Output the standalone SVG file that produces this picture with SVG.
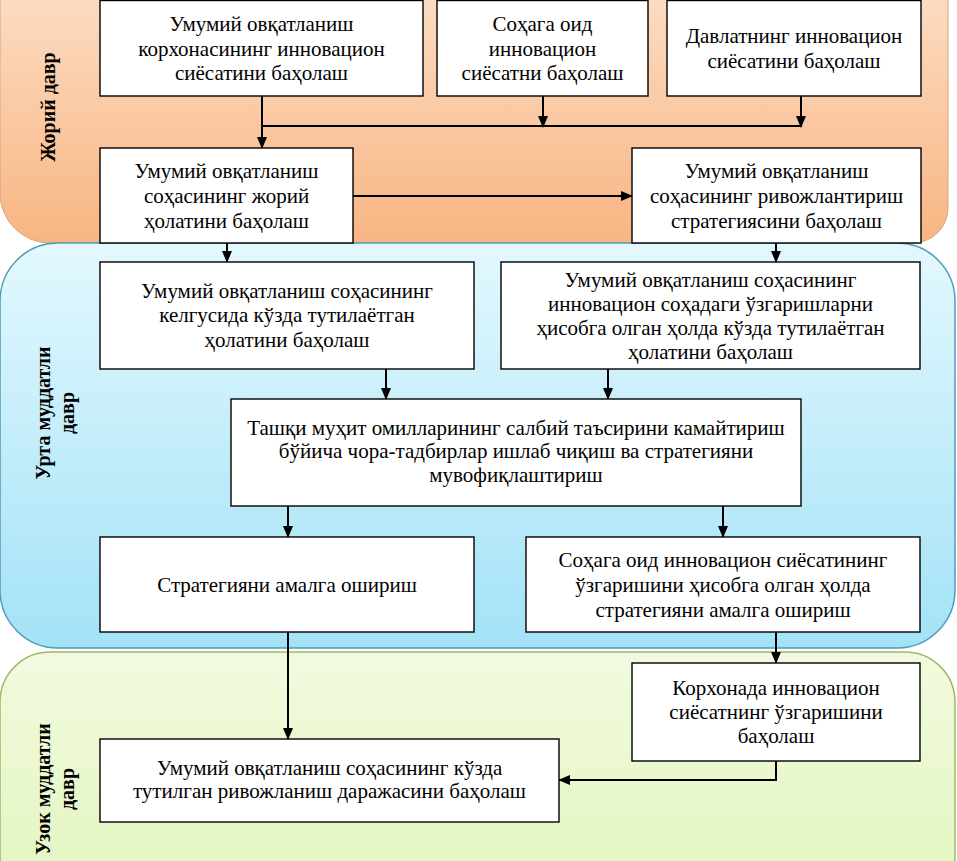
<svg xmlns="http://www.w3.org/2000/svg" width="957" height="861" viewBox="0 0 957 861">
<defs>
<linearGradient id="gOrange" x1="0" y1="0" x2="0" y2="1">
<stop offset="0" stop-color="#fcdcc2"/>
<stop offset="1" stop-color="#f8b583"/>
</linearGradient>
<linearGradient id="gBlue" x1="0" y1="0" x2="0" y2="1">
<stop offset="0" stop-color="#e3f8fe"/>
<stop offset="1" stop-color="#a3e2f7"/>
</linearGradient>
<linearGradient id="gGreen" x1="0" y1="0" x2="0" y2="1">
<stop offset="0" stop-color="#f1fadf"/>
<stop offset="1" stop-color="#e2f5bd"/>
</linearGradient>
<marker id="ah" markerUnits="userSpaceOnUse" markerWidth="12" markerHeight="12" refX="11" refY="5" orient="auto" viewBox="0 0 12 10">
<path d="M0,0 L12,5 L0,10 z" fill="#000"/>
</marker>
</defs>
<style>
.box{fill:#fff;stroke:#000;stroke-width:1.4}
.t{font-family:"Liberation Serif","Times New Roman",serif;font-size:21px;fill:#000;text-anchor:middle}
.lab{font-family:"Liberation Serif","Times New Roman",serif;font-size:20px;font-weight:bold;fill:#000;text-anchor:middle}
.c{fill:none;stroke:#000;stroke-width:2}
.ca{fill:none;stroke:#000;stroke-width:2;marker-end:url(#ah)}
</style>
<rect width="957" height="861" fill="#fff"/>
<g id="panels">
<path d="M-5,-5 H948 V208 A35,35 0 0 1 913,243 H50 A50,50 0 0 1 0,193 V-5 Z" fill="url(#gOrange)" stroke="#d9a57a" stroke-width="1"/>
<rect x="0" y="243" width="955" height="405" rx="58" ry="58" fill="url(#gBlue)" stroke="#4f9cb8" stroke-width="1.5"/>
<rect x="0" y="652" width="955" height="260" rx="50" ry="50" fill="url(#gGreen)" stroke="#a3b765" stroke-width="1.5"/>
</g>
<g id="labels">
<text class="lab" transform="translate(55,107) rotate(-90)">Жорий давр</text>
<text class="lab" transform="translate(50,413) rotate(-90)"><tspan x="0" y="0">Урта муддатли</tspan><tspan x="0" y="24">давр</tspan></text>
<text class="lab" transform="translate(50,789) rotate(-90)"><tspan x="0" y="0">Узок муддатли</tspan><tspan x="0" y="24">давр</tspan></text>
</g>
<g id="connectors">
<line class="ca" x1="262" y1="96" x2="262" y2="148"/>
<line class="c" x1="261" y1="126" x2="802" y2="126" stroke-width="1.5"/>
<line class="ca" x1="543" y1="96" x2="543" y2="127"/>
<line class="ca" x1="801" y1="96" x2="801" y2="127"/>
<line class="ca" x1="353" y1="196" x2="632" y2="196"/>
<line class="ca" x1="227" y1="243" x2="227" y2="262"/>
<line class="ca" x1="776" y1="243" x2="776" y2="262"/>
<line class="ca" x1="386" y1="369" x2="386" y2="399"/>
<line class="ca" x1="608" y1="369" x2="608" y2="399"/>
<line class="ca" x1="288" y1="506" x2="288" y2="537"/>
<line class="ca" x1="723" y1="506" x2="723" y2="537"/>
<line class="ca" x1="288" y1="632" x2="288" y2="739"/>
<line class="ca" x1="776" y1="632" x2="776" y2="663"/>
<polyline class="ca" points="776,761 776,780 559,780"/>
</g>
<g id="nodeA">
<rect class="box" x="100" y="0.5" width="323" height="95.5"/>
<text class="t"><tspan x="261.5" y="31">Умумий овқатланиш</tspan><tspan x="261.5" y="56">корхонасининг инновацион</tspan><tspan x="261.5" y="80">сиёсатини баҳолаш</tspan></text>
</g>
<g id="nodeB">
<rect class="box" x="437" y="0.5" width="211" height="95.5"/>
<text class="t"><tspan x="542.5" y="31">Соҳага оид</tspan><tspan x="542.5" y="56">инновацион</tspan><tspan x="542.5" y="80">сиёсатни баҳолаш</tspan></text>
</g>
<g id="nodeC">
<rect class="box" x="667" y="0.5" width="254" height="95.5"/>
<text class="t"><tspan x="794" y="43">Давлатнинг инновацион</tspan><tspan x="794" y="68">сиёсатини баҳолаш</tspan></text>
</g>
<g id="nodeD">
<rect class="box" x="100" y="148" width="253" height="95"/>
<text class="t"><tspan x="226.5" y="178">Умумий овқатланиш</tspan><tspan x="226.5" y="203">соҳасининг жорий</tspan><tspan x="226.5" y="228">ҳолатини баҳолаш</tspan></text>
</g>
<g id="nodeE">
<rect class="box" x="632" y="148" width="289" height="95"/>
<text class="t"><tspan x="776.5" y="178">Умумий овқатланиш</tspan><tspan x="776.5" y="203">соҳасининг ривожлантириш</tspan><tspan x="776.5" y="228">стратегиясини баҳолаш</tspan></text>
</g>
<g id="nodeF">
<rect class="box" x="100" y="262" width="374" height="107"/>
<text class="t"><tspan x="287" y="298">Умумий овқатланиш соҳасининг</tspan><tspan x="287" y="322">келгусида кўзда тутилаётган</tspan><tspan x="287" y="347">ҳолатини баҳолаш</tspan></text>
</g>
<g id="nodeG">
<rect class="box" x="501" y="262" width="419" height="107"/>
<text class="t"><tspan x="710.5" y="287">Умумий овқатланиш соҳасининг</tspan><tspan x="710.5" y="311">инновацион соҳадаги ўзгаришларни</tspan><tspan x="710.5" y="335">ҳисобга олган ҳолда кўзда тутилаётган</tspan><tspan x="710.5" y="359">ҳолатини баҳолаш</tspan></text>
</g>
<g id="nodeH">
<rect class="box" x="231" y="399" width="570" height="107"/>
<text class="t"><tspan x="516" y="435">Ташқи муҳит омилларининг салбий таъсирини камайтириш</tspan><tspan x="516" y="458">бўйича чора-тадбирлар ишлаб чиқиш ва стратегияни</tspan><tspan x="516" y="482">мувофиқлаштириш</tspan></text>
</g>
<g id="nodeI">
<rect class="box" x="100" y="537" width="374" height="95"/>
<text class="t" x="287" y="592">Стратегияни амалга ошириш</text>
</g>
<g id="nodeJ">
<rect class="box" x="526" y="537" width="394" height="95"/>
<text class="t"><tspan x="723" y="567">Соҳага оид инновацион сиёсатининг</tspan><tspan x="723" y="592">ўзгаришини ҳисобга олган ҳолда</tspan><tspan x="723" y="617">стратегияни амалга ошириш</tspan></text>
</g>
<g id="nodeL">
<rect class="box" x="632" y="663" width="288" height="98"/>
<text class="t"><tspan x="776" y="695">Корхонада инновацион</tspan><tspan x="776" y="719">сиёсатнинг ўзгаришини</tspan><tspan x="776" y="743">баҳолаш</tspan></text>
</g>
<g id="nodeK">
<rect class="box" x="100" y="739" width="459" height="83"/>
<text class="t"><tspan x="329.5" y="775">Умумий овқатланиш соҳасининг кўзда</tspan><tspan x="329.5" y="798">тутилган ривожланиш даражасини баҳолаш</tspan></text>
</g>
</svg>
